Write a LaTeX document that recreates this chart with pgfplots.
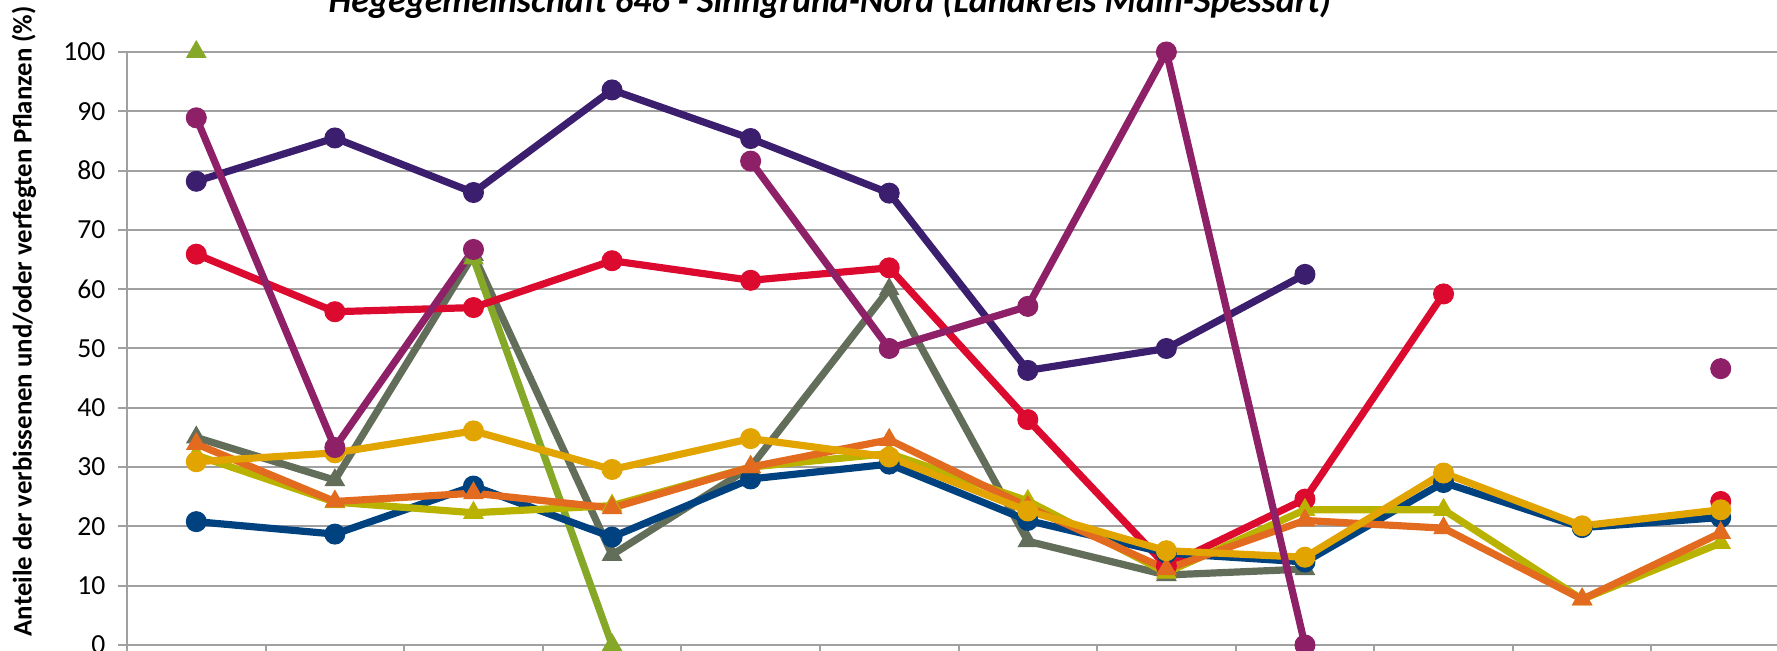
\documentclass[border=0pt]{standalone}
\usepackage{fontspec}
\setmainfont{Carlito}
\usepackage{pgfplots}
\pgfplotsset{compat=1.18}
\definecolor{cDP}{HTML}{3C1E6E}
\definecolor{cMG}{HTML}{8E2068}
\definecolor{cRD}{HTML}{DC0A2E}
\definecolor{cGY}{HTML}{636E5A}
\definecolor{cGR}{HTML}{86A828}
\definecolor{cOL}{HTML}{BAB200}
\definecolor{cOR}{HTML}{E36B1F}
\definecolor{cBL}{HTML}{00427F}
\definecolor{cYE}{HTML}{E2A400}
\definecolor{gridgray}{HTML}{A0A0A0}
\begin{document}
\begin{tikzpicture}
\begin{axis}[
  scale only axis, width=831.5pt, height=296.5pt,
  xmin=-0.5, xmax=11.5, ymin=0, ymax=100,
  clip=false,
  unbounded coords=jump,
  axis x line*=bottom, axis y line*=left,
  axis line style={color=gridgray, line width=1pt},
  xtick={-0.5,0.5,...,11.5}, xticklabels={},
  ytick={0,10,...,100},
  tick align=outside, major tick length=4.5pt,
  tick style={color=gridgray, line width=1pt},
  ymajorgrids, grid style={color=gridgray, line width=1pt},
  /pgf/number format/assume math mode=true,
  yticklabel style={font=\fontsize{13.8}{16}\selectfont, xshift=-2.8pt},
  ylabel={Anteile der verbissenen und/oder verfegten Pflanzen (\%)},
  ylabel style={at={(axis description cs:-0.0619,0.546)}, anchor=center, font=\fontsize{13.4}{15}\selectfont\bfseries},
  title={Hegegemeinschaft 646 - Sinngrund-Nord (Landkreis Main-Spessart)},
  title style={at={(axis description cs:0.4227,1)}, anchor=base, yshift=13.7pt, font=\fontsize{18}{20}\selectfont\bfseries\itshape},
  every axis plot/.append style={line width=3.6pt},
]
\addplot[cGY, mark=triangle*, mark size=5.5pt, mark options={line width=0.5pt}] coordinates {(0,35.0)(1,27.8)(2,65.8)(3,15.2)(4,30.0)(5,60.0)(6,17.5)(7,11.8)(8,12.8)};
\addplot[cGR, mark=triangle*, mark size=5.5pt, mark options={line width=0.5pt}] coordinates {(0,100)(1,nan)(2,65.2)(3,0)};
\addplot[cDP, mark=*, mark size=5pt, mark options={line width=0.5pt}] coordinates {(0,78.2)(1,85.5)(2,76.3)(3,93.6)(4,85.4)(5,76.2)(6,46.3)(7,50.0)(8,62.5)};
\addplot[cRD, mark=*, mark size=5pt, mark options={line width=0.5pt}] coordinates {(0,65.9)(1,56.2)(2,56.9)(3,64.8)(4,61.5)(5,63.6)(6,38.0)(7,13.3)(8,24.6)(9,59.2)(10,nan)(11,24.2)};
\addplot[cBL, mark=*, mark size=5pt, mark options={line width=0.5pt}] coordinates {(0,20.8)(1,18.7)(2,26.8)(3,18.2)(4,28.0)(5,30.5)(6,21.0)(7,15.5)(8,14.0)(9,27.4)(10,19.8)(11,21.5)};
\addplot[cOL, mark=triangle*, mark size=5.5pt, mark options={line width=0.5pt}] coordinates {(0,32.0)(1,24.1)(2,22.3)(3,23.5)(4,30.0)(5,32.3)(6,24.3)(7,12.2)(8,22.8)(9,22.8)(10,7.7)(11,17.2)};
\addplot[cOR, mark=triangle*, mark size=5.5pt, mark options={line width=0.5pt}] coordinates {(0,33.9)(1,24.2)(2,25.6)(3,23.1)(4,30.0)(5,34.6)(6,23.3)(7,12.8)(8,21.0)(9,19.7)(10,7.7)(11,18.9)};
\addplot[cYE, mark=*, mark size=5pt, mark options={line width=0.5pt}] coordinates {(0,30.9)(1,32.4)(2,36.1)(3,29.6)(4,34.8)(5,31.7)(6,22.6)(7,15.9)(8,14.8)(9,29.0)(10,20.1)(11,22.8)};
\addplot[cMG, mark=*, mark size=5pt, mark options={line width=0.5pt}] coordinates {(0,88.9)(1,33.3)(2,66.7)(3,nan)(4,81.6)(5,50.0)(6,57.1)(7,100)(8,0)(9,nan)(10,nan)(11,46.6)};
\end{axis}
\pgfresetboundingbox
\useasboundingbox (-63.5pt,-3pt) rectangle (825pt,322.5pt);
\end{tikzpicture}
\end{document}
